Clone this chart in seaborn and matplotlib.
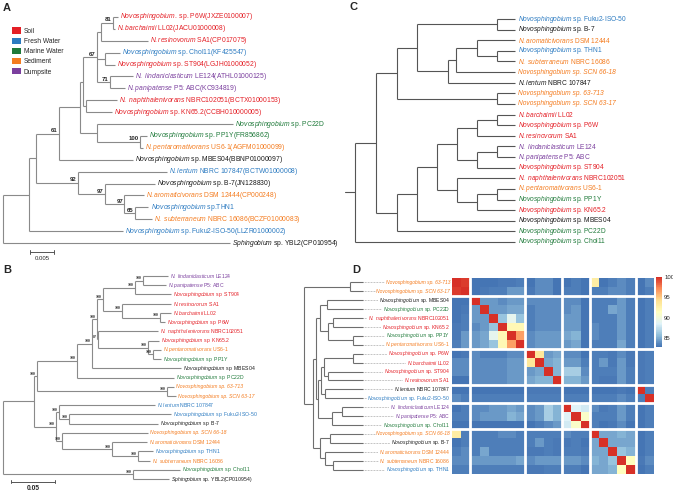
import numpy as np
import pandas as pd
import seaborn as sns
import matplotlib.pyplot as plt
from matplotlib.colors import LinearSegmentedColormap
from matplotlib.patches import Patch

W, H = 673, 491

sns.set_style('white')
plt.rcParams['font.family'] = ['Liberation Sans', 'DejaVu Sans']
plt.rcParams['mathtext.fontset'] = 'custom'
plt.rcParams['mathtext.rm'] = 'Liberation Sans'
plt.rcParams['mathtext.it'] = 'Liberation Sans:italic'
plt.rcParams['mathtext.bf'] = 'Liberation Sans:bold'

# ---------------- data ----------------
# habitat colours
HABITATS = ['Soil', 'Fresh Water', 'Marine Water', 'Sediment', 'Dumpsite']
HAB_COLORS = ['#e41f26', '#2c7bc1', '#1f7a3a', '#f47c20', '#7b3f9e']

# (italic part, plain part) of each strain name
NAMES = {
    'P6W': ('Novosphingobium', 'sp. P6W'),
    'LL02': ('N.barchaimii', 'LL02'),
    'SA1': ('N.resinovorum', 'SA1'),
    'Chol11': ('Novosphingobium', 'sp. Chol11'),
    'ST904': ('Novosphingobium', 'sp. ST904'),
    'LE124': ('N. lindaniclasticum', 'LE124'),
    'P5': ('N.panipatense', 'P5: ABC'),
    'NBRC102051': ('N. naphthalenivorans', 'NBRC102051'),
    'KN65.2': ('Novosphingobium', 'sp. KN65.2'),
    'PC22D': ('Novosphingobium', 'sp. PC22D'),
    'PP1Y': ('Novosphingobium', 'sp. PP1Y'),
    'US6-1': ('N.pentaromativorans', 'US6-1'),
    'MBES04': ('Novosphingobium', 'sp. MBES04'),
    'NBRC107847': ('N.lentum', 'NBRC 107847'),
    'B-7': ('Novosphingobium', 'sp. B-7'),
    'DSM12444': ('N.aromaticivorans', 'DSM 12444'),
    'THN1': ('Novosphingobium', 'sp. THN1'),
    'NBRC16086': ('N. subterraneum', 'NBRC 16086'),
    'Fuku2': ('Novosphingobium', 'sp. Fuku2-ISO-50'),
    'YBL2': ('Sphingobium', 'sp. YBL2(CP010954)'),
    '63-713': ('Novosphingobium sp. 63-713', ''),
    'SCN63-17': ('Novosphingobium sp. SCN 63-17', ''),
    'SCN66-18': ('Novosphingobium sp. SCN 66-18', ''),
}
ACCESSION = {
    'P6W': 'JXZE0100007', 'LL02': 'JACU01000008', 'SA1': 'CP017075',
    'Chol11': 'KF425547', 'ST904': 'LGJH01000052', 'LE124': 'ATHL01000125',
    'P5': 'KC934819', 'NBRC102051': 'BCTX01000153', 'KN65.2': 'CCBH010000005',
    'PP1Y': 'FR856862', 'US6-1': 'AGFM01000099', 'MBES04': 'BBNP01000097',
    'NBRC107847': 'BCTW01000008', 'B-7': 'JN128830', 'DSM12444': 'CP000248',
    'NBRC16086': 'BCZF01000083', 'Fuku2': 'LLZR01000002',
}
NAMES_A = {'P6W': ('Novosphingobium.', 'sp. P6W'), 'THN1': ('Novosphingobium', 'sp.THN1')}

HABITAT = {
    'P6W': 'Soil', 'LL02': 'Soil', 'SA1': 'Soil', 'ST904': 'Soil',
    'NBRC102051': 'Soil', 'KN65.2': 'Soil',
    'NBRC107847': 'Fresh Water', 'THN1': 'Fresh Water', 'Fuku2': 'Fresh Water',
    'Chol11': 'Marine Water', 'PC22D': 'Marine Water', 'PP1Y': 'Marine Water',
    'US6-1': 'Sediment', 'DSM12444': 'Sediment', 'NBRC16086': 'Sediment',
    '63-713': 'Sediment', 'SCN63-17': 'Sediment', 'SCN66-18': 'Sediment',
    'LE124': 'Dumpsite', 'P5': 'Dumpsite',
}
HABITAT_A = {'Chol11': 'Fresh Water'}
HABITAT_CD = {'NBRC107847': None}

# trees (newick, bootstrap values as internal labels)
TREE_A = (
    "(((((((((P6W:0.0010,LL02:0.0004)81:0.0025,SA1:0.0098):0.0008,"
    "(Chol11:0.0031,ST904:0.0021):0.0017,(LE124:0.0048,P5:0.0031)71:0.0027)67:0.0029,"
    "(NBRC102051:0.0065,KN65.2:0.0054):0.0006):0.0006,"
    "(PC22D:0.0283,(PP1Y:0.0013,US6-1:0.0006)100:0.0090):0.0035):0.0044,"
    "MBES04:0.0154)61:0.0048,"
    "(NBRC107847:0.0185,(B-7:0.0104,(DSM12444:0.0040,(THN1:0.0029,NBRC16086:0.0037)65:0.0021)97:0.0040)97:0.0056)92:0.0088"
    "):0.0015,Fuku2:0.0196):0.0054,YBL2:0.0473);"
)
TREE_B = (
    "(((((((((LE124:0.0284,P5:0.0261)100:0.0091,ST904:0.0409)100:0.0364,"
    "(SA1:0.0557,(LL02:0.0125,P6W:0.0057)100:0.0432)100:0.0216)100:0.0068,"
    "(NBRC102051:0.0682,(KN65.2:0.0125,(US6-1:0.0091,PP1Y:0.0091)100:0.0057)100:0.0568)87:0.0011)100:0.0057,"
    "MBES04:0.1011)100:0.0170,PC22D:0.1102)100:0.0455,"
    "(63-713:0.0080,SCN63-17:0.0102)100:0.1477)100:0.0034,"
    "((NBRC107847:0.1091,(Fuku2:0.1159,B-7:0.1011)100:0.0114)100:0.0034,"
    "(SCN66-18:0.0977,(DSM12444:0.0398,(THN1:0.0170,NBRC16086:0.0136)100:0.0295)100:0.0568)100:0.0068)100:0.0250):0.0352,"
    "(Chol11:0.0534,YBL2:0.0409)100:0.1477);"
)
TREE_C = (
    "(((((Fuku2,B-7):80,(((DSM12444,(THN1,NBRC16086):20):21,SCN66-18):8,NBRC107847):31):20,"
    "(63-713,SCN63-17):100):21,((((((LL02,P6W):20,SA1):20,((LE124,P5):20,ST904):20):20,"
    "(NBRC102051,((US6-1,PP1Y):20,KN65.2):20):20):20,MBES04):20,PC22D):21):21,Chol11):10;"
)
TREE_D = (
    "((63-713,SCN63-17):46,((((MBES04,PC22D):7,((NBRC102051,KN65.2):5,(PP1Y,US6-1):25):8):4,"
    "((((P6W,LL02):29,(ST904,SA1):4):3,(NBRC107847,Fuku2):4):3,((LE124,P5):10,Chol11):14):2):3,"
    "((SCN66-18,B-7):10,(DSM12444,(NBRC16086,THN1):8):5):7):9);"
)

# heatmap D: pairwise identity, lower triangle in row order
D_ROWS = ['63-713', 'SCN63-17', 'MBES04', 'PC22D', 'NBRC102051', 'KN65.2', 'PP1Y', 'US6-1',
          'P6W', 'LL02', 'ST904', 'SA1', 'NBRC107847', 'Fuku2', 'LE124', 'P5', 'Chol11',
          'SCN66-18', 'B-7', 'DSM12444', 'NBRC16086', 'THN1']
D_COLS = ['63-713', 'SCN63-17', 'MBES04', 'PC22D', 'NBRC102051', 'KN65.2', 'PP1Y', 'US6-1',
          'P6W', 'LL02', 'ST904', 'SA1', 'LE124', 'P5', 'Chol11',
          'SCN66-18', 'B-7', 'DSM12444', 'NBRC16086', 'THN1', 'NBRC107847', 'Fuku2']
SIM_LOWER = [
    [],
    [99.5],
    [82.9, 82.9],
    [82.9, 83.1, 84.2],
    [82.9, 83.3, 84.2, 84.2],
    [83.1, 83.3, 83.8, 84.2, 86.0],
    [83.1, 84.2, 84.2, 84.8, 89.0, 92.0],
    [83.3, 84.2, 84.2, 84.8, 86.0, 92.0, 96.5],
    [82.9, 83.1, 83.8, 83.3, 83.3, 83.3, 83.8, 83.8],
    [83.8, 83.8, 83.8, 83.8, 83.8, 83.8, 84.2, 84.2, 93.5],
    [83.8, 83.8, 83.8, 83.8, 83.8, 83.8, 84.2, 84.2, 84.2, 84.8],
    [82.9, 82.9, 83.8, 83.8, 83.8, 83.8, 84.2, 84.2, 84.8, 85.3, 85.3],
    [82.8, 82.8, 82.9, 82.9, 82.9, 82.9, 82.9, 82.9, 83.1, 83.1, 83.1, 83.1],
    [83.8, 83.3, 83.3, 83.3, 83.3, 83.3, 83.3, 83.3, 83.3, 83.3, 83.3, 83.3, 83.3],
    [82.9, 83.3, 83.8, 83.8, 84.2, 84.2, 84.8, 84.2, 83.8, 84.2, 86.5, 85.3, 82.9, 83.3],
    [83.3, 83.3, 83.8, 84.2, 84.2, 84.2, 85.3, 84.8, 83.8, 84.2, 86.5, 85.3, 82.9, 83.3, 88.5],
    [82.9, 82.9, 82.8, 82.8, 82.8, 82.8, 82.8, 82.8, 82.9, 83.3, 83.8, 84.2, 82.9, 83.3, 88.0, 91.0],
    [93.0, 83.3, 83.3, 83.3, 83.3, 83.8, 83.8, 83.3, 83.3, 83.3, 83.3, 83.3, 82.9, 83.3, 83.8, 83.3, 83.3],
    [82.9, 83.3, 83.3, 83.3, 83.3, 83.3, 83.3, 83.3, 83.3, 84.2, 83.3, 83.1, 82.9, 83.3, 83.1, 83.3, 82.9, 84.8],
    [83.3, 83.8, 83.3, 84.8, 83.3, 83.3, 83.3, 83.3, 83.1, 83.1, 83.3, 83.1, 82.9, 83.3, 83.3, 83.3, 83.1, 84.8, 84.8],
    [83.8, 83.8, 84.2, 84.2, 84.2, 84.2, 84.2, 84.8, 83.8, 84.2, 84.2, 84.2, 83.1, 83.8, 84.2, 84.2, 83.8, 85.3, 84.8, 86.0],
    [83.3, 83.3, 83.3, 83.3, 83.3, 83.3, 83.3, 83.3, 83.1, 83.1, 83.3, 83.3, 82.9, 83.3, 83.3, 83.3, 82.8, 84.8, 84.8, 85.3, 91.5],
]
COLORBAR_TICKS = [85, 90, 95, 100]
HEAT_COLORS = ['#4575B4', '#91BFDB', '#E0F3F8', '#FFFFBF', '#FEE090', '#FC8D59', '#D73027']


# ---------------- helpers ----------------
def parse_newick(s):
    pos = 0

    def node():
        nonlocal pos
        n = {'name': '', 'len': 0.0, 'kids': []}
        if s[pos] == '(':
            pos += 1
            while True:
                n['kids'].append(node())
                if s[pos] == ',':
                    pos += 1
                    continue
                break
            pos += 1  # ')'
        start = pos
        while s[pos] not in ',():;':
            pos += 1
        n['name'] = s[start:pos]
        if s[pos] == ':':
            pos += 1
            start = pos
            while s[pos] not in ',();':
                pos += 1
            n['len'] = float(s[start:pos])
        return n

    root = node()
    assert s[pos] == ';', 'bad newick'
    return root


def layout(n, x0, tips):
    n['x'] = x0 + n['len']
    if n['kids']:
        for k in n['kids']:
            layout(k, n['x'], tips)
        n['y'] = (n['kids'][0]['y'] + n['kids'][-1]['y']) / 2
    else:
        n['y'] = len(tips)
        tips.append(n)


def draw_nodes(ax, n, color, lw, boot_fs, boot_font):
    for k in n['kids']:
        ax.plot([n['x'], k['x']], [k['y'], k['y']], color=color, lw=lw,
                solid_capstyle='butt', clip_on=False)
        draw_nodes(ax, k, color, lw, boot_fs, boot_font)
    if n['kids']:
        ax.plot([n['x'], n['x']], [n['kids'][0]['y'], n['kids'][-1]['y']],
                color=color, lw=lw, solid_capstyle='butt', clip_on=False)
        if n['name'] and boot_fs:
            ax.annotate(n['name'], (n['x'], n['y']), xytext=(-1, 0.3),
                        textcoords='offset points', ha='right', va='bottom',
                        fontsize=boot_fs, fontweight='bold', family=boot_font,
                        annotation_clip=False)


def tip_text(key, with_acc=False):
    ital, rest = NAMES_A.get(key, NAMES[key]) if with_acc else NAMES[key]
    if with_acc and key in ACCESSION:
        rest = rest + '(' + ACCESSION[key] + ')'
    if rest == '':
        return ital, 'italic'
    return r'$\mathit{' + ital.replace(' ', r'\ ') + '}$ ' + rest, 'normal'


def tip_color(key, override):
    hab = override.get(key, HABITAT.get(key))
    if hab is None:
        return '#1a1a1a'
    return HAB_COLORS[HABITATS.index(hab)]


def px_axes(fig, left, top, width, height):
    ax = fig.add_axes([left / W, 1 - (top + height) / H, width / W, height / H])
    ax.axis('off')
    return ax


def draw_tree(ax, newick, color, lw, fs, boot_fs=0, boot_font='Liberation Sans',
              align=None, with_acc=False, override={}, pad=1.5):
    root = parse_newick(newick)
    tips = []
    layout(root, 0.0, tips)
    if align is not None:
        for t in tips:
            t['x'] = align
    if root['len'] > 0:
        ax.plot([0, root['x']], [root['y'], root['y']], color=color, lw=lw, clip_on=False)
    draw_nodes(ax, root, color, lw, boot_fs, boot_font)
    ax.set_ylim(len(tips) - 0.5, -0.5)
    for t in tips:
        txt, style = tip_text(t['name'], with_acc)
        ax.annotate(txt, (t['x'], t['y']), xytext=(pad, 0), textcoords='offset points',
                    ha='left', va='center', fontsize=fs, style=style,
                    color=tip_color(t['name'], override), annotation_clip=False)
    return tips


# ---------------- figure ----------------
fig = plt.figure(figsize=(W / 100, H / 100), dpi=100)

# A: ML tree with bootstrap
axA = px_axes(fig, 3, 11, 340, 238)
axA.set_xlim(0, 340 / 4800)
draw_tree(axA, TREE_A, '#8a8a8a', 0.8, 4.9, boot_fs=4.3, with_acc=True, override=HABITAT_A)
sx = 27 / 4800
axA.plot([sx, sx + 0.005], [19.75, 19.75], color='#555', lw=0.7, clip_on=False)
for xx in (sx, sx + 0.005):
    axA.plot([xx, xx], [19.6, 19.9], color='#555', lw=0.7, clip_on=False)
axA.text(sx + 0.0025, 20.05, '0.005', ha='center', va='top', fontsize=4.3)

handles = [Patch(facecolor=c, edgecolor='none') for c in HAB_COLORS]
fig.legend(handles, HABITATS, loc='upper left', bbox_to_anchor=(12 / W, 1 - 27.5 / H),
           frameon=False, fontsize=4.8, handlelength=1.35, handleheight=1.05,
           labelspacing=0.42, handletextpad=0.45, borderpad=0, borderaxespad=0)

# B: tree with bootstrap 100s
axB = px_axes(fig, 3, 271.4, 330, 212.3)
axB.set_xlim(0, 330 / 880)
draw_tree(axB, TREE_B, '#8a8a8a', 0.8, 3.7, boot_fs=2.8, boot_font='Liberation Serif')
sx = 8 / 880
axB.plot([sx, sx + 0.05], [22.3, 22.3], color='#555', lw=0.7, clip_on=False)
for xx in (sx, sx + 0.05):
    axB.plot([xx, xx], [22.15, 22.45], color='#555', lw=0.7, clip_on=False)
axB.text(sx + 0.025, 22.6, '0.05', ha='center', va='top', fontsize=4.8, fontweight='bold')

# C: cladogram
axC = px_axes(fig, 345, 13.7, 320, 233.6)
axC.set_xlim(0, 320)
draw_tree(axC, TREE_C, '#555555', 0.8, 4.8, align=170, override=HABITAT_CD, pad=2)

# D: dendrogram + identity heatmap
axD = px_axes(fig, 304, 278, 148, 196)
axD.set_xlim(0, 148)
root = parse_newick(TREE_D)
tips = []
layout(root, 0.0, tips)
for t in tips:
    t['x'] = 59
draw_nodes(axD, root, '#6e6e6e', 0.8, 0, None)
axD.set_ylim(len(tips) - 0.5, -0.5)
for t in tips:
    axD.plot([t['x'], 146], [t['y'], t['y']], color='#888', lw=0.5, ls=(0, (1, 1.2)))
    txt, style = tip_text(t['name'])
    axD.text(146, t['y'], txt, ha='right', va='center', fontsize=3.6, style=style,
             color=tip_color(t['name'], HABITAT_CD),
             bbox=dict(boxstyle='square,pad=0.15', fc='white', ec='none'))

sim = np.full((len(D_ROWS), len(D_ROWS)), 100.0)
for i, row in enumerate(SIM_LOWER):
    for j, v in enumerate(row):
        sim[i, j] = v
        sim[j, i] = v
df = pd.DataFrame(sim, index=D_ROWS, columns=D_ROWS)[D_COLS]

cmap = LinearSegmentedColormap.from_list('pheat', HEAT_COLORS, N=100)
axH = fig.add_axes([452 / W, 1 - 474 / H, 202 / W, 196 / H])
axCB = fig.add_axes([656 / W, 1 - 347 / H, 6 / W, 70 / H])
sns.heatmap(df, ax=axH, cmap=cmap, vmin=82.8, vmax=100, cbar_ax=axCB,
            xticklabels=False, yticklabels=False, cbar_kws={'ticks': COLORBAR_TICKS})
axH.set_xlabel('')
axH.set_ylabel('')
axCB.tick_params(length=0, labelsize=4.3, pad=1.5)
axH.collections[0].colorbar.outline.set_visible(False)

# gaps between clusters
row_groups = [2, 6, 4, 2, 3, 5]
col_groups = [2, 6, 4, 3, 5, 2]
for b in np.cumsum(row_groups)[:-1]:
    axH.axhline(b, color='white', lw=2)
for b in np.cumsum(col_groups)[:-1]:
    axH.axvline(b, color='white', lw=2)

# panel letters
for letter, x, y in [('A', 3, 8), ('B', 3, 270), ('C', 350, 7), ('D', 352, 270)]:
    fig.text(x / W, 1 - y / H, letter, ha='left', va='center', fontsize=8, fontweight='bold')

fig.savefig('out.png', dpi=100)
